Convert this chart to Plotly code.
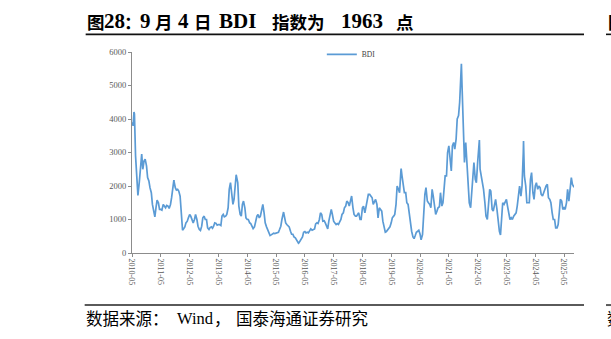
import plotly.graph_objects as go

# ---------------- data (semi-monthly readings: 1st and 15th of each month) ----------------
v2010 = [3900, 3800, 4150, 2900, 2300, 1720, 2100, 2650, 2950, 2500, 2750, 2800, 2600, 2250, 2150, 1950]  # from May
v2011 = [1800, 1450, 1250, 1080, 1350, 1580, 1500, 1300, 1300, 1280, 1450, 1400, 1350, 1420, 1400, 1330, 1450, 1650, 1900, 2150, 1950, 1880, 1900, 1850]
v2012 = [1700, 1050, 680, 720, 780, 900, 950, 1050, 1150, 1100, 950, 900, 1000, 1150, 1000, 800, 700, 670, 800, 1050, 1100, 1000, 1000, 750]
v2013 = [700, 760, 780, 740, 800, 900, 880, 830, 850, 850, 820, 1100, 1150, 1080, 1100, 1150, 1350, 1900, 2100, 1700, 1450, 1600, 2200, 2300]
v2014 = [2100, 1400, 1150, 1100, 1450, 1550, 1350, 1050, 1000, 1000, 900, 880, 800, 730, 780, 950, 1100, 1150, 1050, 1100, 1300, 1450, 1200, 900]
v2015 = [780, 700, 560, 520, 540, 570, 590, 580, 590, 600, 620, 700, 800, 1000, 1200, 1100, 900, 850, 800, 780, 650, 560, 560, 480]
v2016 = [450, 380, 320, 300, 360, 420, 480, 620, 640, 600, 620, 600, 680, 720, 680, 700, 720, 870, 900, 880, 1000, 1200, 1150, 950]
v2017 = [960, 900, 780, 720, 950, 1150, 1300, 1150, 950, 900, 850, 880, 850, 920, 1000, 1150, 1200, 1350, 1400, 1550, 1500, 1400, 1600, 1700]
v2018 = [1350, 1150, 1100, 1100, 1150, 1200, 1000, 1000, 1350, 1400, 1200, 1400, 1600, 1750, 1750, 1700, 1650, 1450, 1550, 1600, 1450, 1050, 1350, 1300]
v2019 = [1250, 950, 700, 620, 640, 690, 720, 780, 900, 1050, 1100, 1150, 1450, 2000, 1900, 1800, 2450, 2300, 2050, 1800, 1800, 1500, 1450, 1150]
v2020 = [850, 650, 480, 430, 520, 620, 650, 680, 560, 400, 550, 1200, 1750, 1950, 1550, 1500, 1450, 1350, 1900, 1700, 1300, 1150, 1250, 1350]
v2021 = [1380, 1800, 1400, 1500, 1900, 2300, 2300, 3000, 3200, 2900, 2450, 3200, 3300, 3100, 3400, 4000, 4100, 4500, 5200, 5000, 3400, 2700, 3300, 2600]
v2022 = [2200, 1500, 1350, 1900, 2400, 2700, 2200, 2100, 2700, 3300, 2500, 2300, 2100, 1900, 1500, 1100, 1000, 1500, 1900, 1850, 1300, 1250, 1400, 1600]
v2023 = [1300, 900, 650, 540, 1000, 1500, 1450, 1550, 1600, 1400, 1100, 1000, 1050, 1000, 1100, 1150, 1200, 1400, 1800, 2000, 1700, 2000, 3000, 2300]
v2024 = [2000, 1500, 1500, 1500, 2200, 2400, 1800, 1600, 2000, 2100, 1900, 2000, 1950, 1750, 1700, 1800, 1900, 2000, 2050, 1650, 1600, 1500, 1200, 1000]
v2025 = [1000, 750, 750, 850, 1200, 1600, 1550, 1300, 1350, 1300, 1500, 1900, 1550, 1800, 2250, 2050, 2000]  # to Sep 1

extra_dates = ["2010-05-26", "2011-10-14", "2013-12-12", "2015-08-05", "2016-02-10", "2019-09-04",
               "2020-05-14", "2021-10-07", "2022-05-23", "2023-12-04", "2025-09-04"]
extra_vals = [4209, 2173, 2337, 1222, 290, 2518, 393, 5650, 3369, 3346, 1963]

year_series = [(2010, 5, v2010), (2011, 1, v2011), (2012, 1, v2012), (2013, 1, v2013), (2014, 1, v2014),
               (2015, 1, v2015), (2016, 1, v2016), (2017, 1, v2017), (2018, 1, v2018), (2019, 1, v2019),
               (2020, 1, v2020), (2021, 1, v2021), (2022, 1, v2022), (2023, 1, v2023), (2024, 1, v2024),
               (2025, 1, v2025)]

pts = []
for yr, m0, vals in year_series:
    for i, v in enumerate(vals):
        m = m0 + i // 2
        d = 1 if i % 2 == 0 else 15
        pts.append((f"{yr}-{m:02d}-{d:02d}", v))
pts += list(zip(extra_dates, extra_vals))
pts.sort(key=lambda p: p[0])
dates = [p[0] for p in pts]
values = [p[1] for p in pts]

# ---------------- layout geometry ----------------
W, H = 611, 339
L, R, T, B = 132.3, 37.0, 51.7, 85.7
PW, PH = W - L - R, H - T - B


def px2x(px):
    return (px - L) / PW


def py2y(py):
    return (H - B - py) / PH


BLUE = "#5B9BD5"
AX = "#8C8C8C"
TICKFONT = dict(family="Liberation Serif, Times New Roman, serif", size=8.5, color="#595959")

fig = go.Figure()
fig.add_trace(go.Scatter(x=dates, y=values, mode="lines", name="BDI",
                         line=dict(color=BLUE, width=1.7)))

fig.update_layout(
    width=W, height=H,
    margin=dict(l=L, r=R, t=T, b=B, pad=0),
    paper_bgcolor="white", plot_bgcolor="white",
    showlegend=True,
    legend=dict(orientation="h", x=px2x(322), y=py2y(54), xanchor="left", yanchor="middle",
                font=dict(family="Liberation Serif, serif", size=7.5, color="#404040"),
                bgcolor="rgba(0,0,0,0)", itemwidth=30),
    xaxis=dict(type="date", range=["2010-05-01", "2025-09-04"],
               tick0="2010-05-01", dtick="M12", tickformat="%Y-%m", tickangle=90,
               showgrid=False, zeroline=False, showline=True, linecolor=AX, linewidth=1,
               ticks="outside", ticklen=3, tickcolor=AX, tickfont=dict(TICKFONT, size=8)),
    yaxis=dict(range=[0, 6000], dtick=1000, showgrid=False, zeroline=False,
               showline=True, linecolor=AX, linewidth=1,
               ticks="outside", ticklen=3, tickcolor=AX, tickfont=TICKFONT),
)

CJK_T = dict(family="Noto Sans CJK SC, sans-serif", size=17.5, color="black")
LAT_T = dict(family="Liberation Serif, Times New Roman, serif", size=21, color="black")
title_pieces = [("图", 86.5, CJK_T), ("28", 103.8, LAT_T), ("：", 123.5, CJK_T), ("9", 139.5, LAT_T),
                ("月", 154.5, CJK_T), ("4", 177.5, LAT_T), ("日", 193.5, CJK_T), ("BDI", 218.5, LAT_T),
                ("指数为", 271.5, CJK_T), ("1963", 340.5, LAT_T), ("点", 395.5, CJK_T), ("图", 606.5, CJK_T)]
anns = []
for txt, px, fnt in title_pieces:
    anns.append(dict(text=f"<b>{txt}</b>", x=px2x(px), y=py2y(21), xref="paper", yref="paper",
                     xanchor="left", yanchor="middle", align="left", borderpad=0,
                     showarrow=False, font=fnt))

CJK_S = dict(family="Noto Sans CJK SC, sans-serif", size=16.5, color="black")
LAT_S = dict(family="Liberation Serif, Times New Roman, serif", size=16.5, color="black")
src_pieces = [("数据来源：", 85.5, CJK_S), ("Wind", 176.5, LAT_S), ("，", 213.5, CJK_S),
              ("国泰海通证券研究", 235, CJK_S), ("数", 606, CJK_S)]
for txt, px, fnt in src_pieces:
    anns.append(dict(text=txt, x=px2x(px), y=py2y(318.5), xref="paper", yref="paper",
                     xanchor="left", yanchor="middle", align="left", borderpad=0,
                     showarrow=False, font=fnt))

shapes = [
    dict(type="line", xref="paper", yref="paper", x0=px2x(86), x1=px2x(584), y0=py2y(34), y1=py2y(34),
         line=dict(color="#111111", width=1.6)),
    dict(type="line", xref="paper", yref="paper", x0=px2x(606), x1=px2x(612), y0=py2y(34), y1=py2y(34),
         line=dict(color="#111111", width=1.6)),
    dict(type="line", xref="paper", yref="paper", x0=px2x(85), x1=px2x(584), y0=py2y(305.5), y1=py2y(305.5),
         line=dict(color="#5A5A5A", width=2)),
    dict(type="line", xref="paper", yref="paper", x0=px2x(606), x1=px2x(612), y0=py2y(305.5), y1=py2y(305.5),
         line=dict(color="#5A5A5A", width=2)),
]
fig.update_layout(annotations=anns, shapes=shapes)

fig.write_html("out.html")
